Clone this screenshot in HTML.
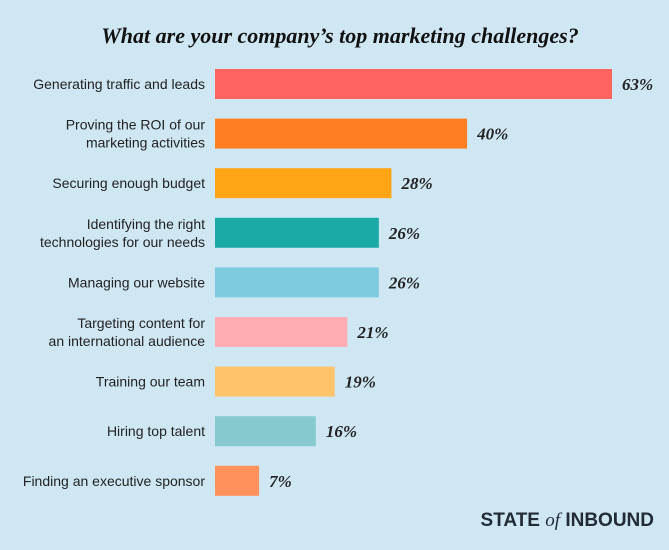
<!DOCTYPE html>
<html><head><meta charset="utf-8"><style>
body{margin:0;width:669px;height:545px;background:#cfe7f3;overflow:hidden;font-family:"Liberation Sans",sans-serif}
</style></head><body>
<svg width="669" height="545">
<rect width="669" height="545" fill="#cfe7f3"/>
<text x="340" y="43" text-anchor="middle" font-family="Liberation Serif" font-style="italic" font-weight="bold" font-size="22" fill="#111">What are your company’s top marketing challenges?</text>
<g id="bars"></g>
<text x="654" y="526" text-anchor="end" font-size="19" font-weight="bold" fill="#222b36">STATE <tspan font-family="Liberation Serif" font-style="italic" font-weight="normal">of</tspan> INBOUND</text>
</svg>
<script>
const categories=[["Generating traffic and leads"],["Proving the ROI of our","marketing activities"],["Securing enough budget"],["Identifying the right","technologies for our needs"],["Managing our website"],["Targeting content for","an international audience"],["Training our team"],["Hiring top talent"],["Finding an executive sponsor"]];
const values=[63,40,28,26,26,21,19,16,7];
const colors=["#ff6360","#ff7e21","#ffa414","#1aaba6","#7ecae1","#ffadb3","#ffc46b","#86c9cf","#ff915c"];
const x0=215, k=(612-215)/63;
const xs=v=>x0+v*k;
const ys=i=>84+i*49.6;
const g=document.getElementById('bars');
const ns="http://www.w3.org/2000/svg";
values.forEach((v,i)=>{
 const cy=ys(i);
 const r=document.createElementNS(ns,'rect');
 
 
 r.setAttribute('x',x0);r.setAttribute('y',cy-15);r.setAttribute('width',xs(v)-x0);r.setAttribute('height',30);r.setAttribute('fill',colors[i]);
 g.appendChild(r);
 const t=document.createElementNS(ns,'text');
 
 
 t.setAttribute('x',xs(v)+10);t.setAttribute('y',cy+6);
 t.setAttribute('font-family','Liberation Serif');t.setAttribute('font-style','italic');t.setAttribute('font-weight','bold');t.setAttribute('font-size','17');t.setAttribute('fill','#222');
 t.textContent=v+'%';g.appendChild(t);
 const lines=categories[i];
 lines.forEach((s,j)=>{
  const l=document.createElementNS(ns,'text');
  
  
  l.setAttribute('x',205);
  l.setAttribute('y',cy+5+(j-(lines.length-1)/2)*18);
  l.setAttribute('text-anchor','end');l.setAttribute('font-size','14');l.setAttribute('fill','#222');
  l.textContent=s;g.appendChild(l);
 });
});
</script>
</body></html>
